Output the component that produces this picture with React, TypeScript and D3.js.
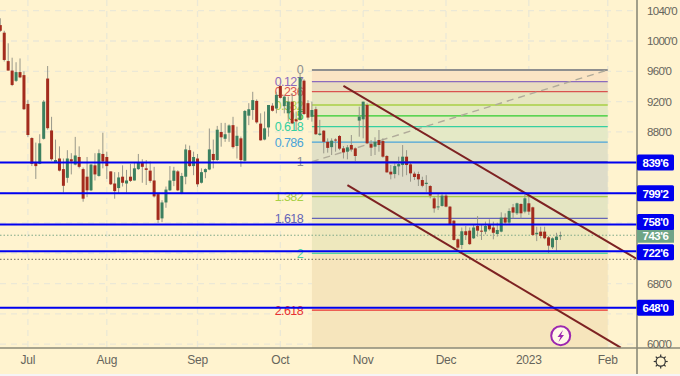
import React from "react";
import * as d3 from "d3";

const opens = [
  1021, 1011, 973.5, 961, 947.5, 959, 955, 917, 872, 840.5,
  838, 871, 950.5, 882, 840, 845, 831, 819.5, 844, 837,
  847, 831, 821, 803, 836, 822, 851, 847, 828, 812,
  806, 821, 812, 821, 816, 831, 839, 832, 829, 816,
  798, 766, 787, 803, 815.5, 828, 799, 821, 856, 835,
  845, 813, 827, 830.5, 851, 843, 880, 871, 879, 889,
  861.5, 871.6, 842, 901.5, 909, 921, 891, 870, 886, 914.7,
  911, 940.7, 914, 904.6, 920, 896.7, 896, 947.7, 918, 900,
  910, 876, 881.7, 867, 860, 870, 874.7, 858.4, 854, 862.8,
  858.4, 895, 896.7, 915.6, 864, 860.6, 869.4, 868, 848.3, 827.6,
  824.5, 834.6, 836.4, 847.4, 837.3, 825, 824.5, 816.6, 811.3, 808.7,
  792.4, 780.5, 782.4, 796, 781.5, 763, 738.4, 730.9, 749, 749.8,
  739.7, 756, 749.8, 748.5, 758, 754, 745.4, 748.5, 767, 760.4,
  780.6, 772.7, 785, 774.9, 785.9, 780.6, 745, 748.5, 748.5, 741,
  727.8, 737.5, 742.8,
];
const closes = [
  1013.5, 975, 961, 942, 959, 952, 910, 876, 838, 835,
  865, 920, 885, 844, 843, 829, 809, 845, 841, 849,
  834, 792, 803, 837, 824, 852, 841, 835, 811, 802,
  820, 813, 816, 815.5, 832, 840, 834, 830, 815.5, 795,
  764, 787, 804, 816, 829, 803, 822, 857, 835, 847,
  811, 827, 831, 857, 843, 883, 873, 877, 888.6, 860,
  875, 843, 907.7, 910, 922, 892.7, 869, 884.8, 915.6, 908,
  929, 925, 926.6, 920, 891.4, 894, 952, 903.7, 899, 909,
  877, 878, 867, 859, 868.5, 869.4, 858, 853, 859.7, 857,
  848.3, 900.2, 920, 865, 859.3, 867, 862.8, 847.4, 826.7, 824,
  835, 837.7, 847.4, 836.4, 825.4, 820.6, 817.5, 809, 813, 796,
  779.2, 781.8, 796, 781.5, 758, 737.5, 727.4, 749, 744, 732,
  754, 749.8, 749.4, 756, 751.6, 747, 750.7, 767, 760.4, 775.8,
  773.6, 785.9, 772.7, 792.5, 774.9, 744, 747, 742.8, 739.7, 730,
  739.7, 742, 743.75,
];
const highs = [
  1030, 1013.5, 997, 978, 972, 977, 960, 922, 873, 866,
  877, 922, 967, 900, 870, 861, 845, 856, 852, 873.5,
  861, 833, 847, 838, 852, 857, 879, 854, 828, 827,
  827, 836, 830, 838, 840, 851, 844, 843, 841, 834,
  799, 790, 808, 835, 834, 829.6, 826, 863.5, 862, 854,
  851, 832, 832, 884.6, 870, 888, 892, 892, 890, 900,
  887, 874, 909, 918, 933, 923, 904.6, 907, 915.6, 918,
  933, 942, 929, 926.6, 931, 907, 958, 949.5, 922, 920,
  913.4, 896, 882.6, 871.6, 871.6, 871.6, 876, 861.5, 862.8, 876,
  859.7, 913.4, 920, 917.8, 869.4, 873, 882.6, 871.6, 849.6, 836.4,
  838.6, 847.4, 862.8, 856, 839.5, 827.6, 827.6, 821, 823, 810,
  794.6, 799, 800, 799, 782.4, 764, 739.7, 754, 756, 754,
  757.3, 769, 758, 761.7, 764.8, 761.7, 760.4, 774, 772.7, 779.3,
  785, 786.8, 785.9, 799, 795.6, 781.5, 755, 755, 755, 742.8,
  741, 747, 748.5,
];
const lows = [
  1012, 973, 961, 940.5, 946, 951, 909, 873.5, 835, 818,
  837.5, 870, 883, 842, 840, 828, 800, 813, 824, 836,
  832, 788, 794, 802, 816, 821, 832, 818, 810, 792,
  799, 808, 800, 814, 816, 830, 813, 810, 813, 793.5,
  760, 761, 780, 802, 808.5, 802, 798, 811, 834, 823,
  807.6, 812, 819, 829.6, 832, 842, 860.6, 867, 867, 858,
  845, 834, 841, 889, 896, 891, 868.5, 869, 873.8, 907,
  904.6, 924, 904.6, 893.6, 890.5, 882.6, 895, 902.4, 896, 893.6,
  876, 875, 851.8, 852.7, 849.6, 854, 856, 845, 843.9, 854,
  841.7, 873.8, 871.6, 864, 848.3, 849.6, 854, 846, 826.3, 817.5,
  818.8, 823, 821, 823, 814.4, 816.6, 808.7, 807, 801, 792.4,
  773.5, 777, 781.5, 780.6, 757.3, 736.6, 725.6, 725.6, 737.5, 731,
  738.8, 741.9, 737.5, 745, 749.8, 738.4, 741.9, 747.6, 757.3, 757.3,
  766, 770.5, 766, 772.7, 770.5, 743.2, 736, 739.7, 738.4, 720,
  725.6, 723.4, 737.5,
];

const gridPrices = [1040, 1000, 960, 920, 880, 840, 800, 760, 720, 680, 640, 600];
const priceLabels = [1040, 1000, 960, 920, 880, 680, 600];
const monthLabels = ["Jul", "Aug", "Sep", "Oct", "Nov", "Dec", "2023", "Feb"];
const monthIndex = [7, 27, 50, 71, 92, 113, 134, 154];

const fibTop = 961.8;
const fibBottom = 840.8;
const fibStartIndex = 79;
const fibEndIndex = 154;
const fibLevels = [0, 0.127, 0.236, 0.382, 0.5, 0.618, 0.786, 1, 1.382, 1.618, 2, 2.618];
const fibLabels = ["0", "0.127", "0.236", "0.382", "0.5", "0.618", "0.786", "1", "1.382", "1.618", "2", "2.618"];
const fibColors = ["#8f8f8f", "#8a6bbd", "#d9534f", "#a8cf45", "#2ecc2e", "#35d0a0", "#4aa3d9", "#8f8f8f", "#a8cf45", "#6464b8", "#4fd3a5", "#e83232"];
const fibFills = ["#fbe4c4", "#e9dcc0", "#e6e6c0", "#e4e9c2", "#e4e9c2", "#e4e9c6", "#e1e0c6", "#dedcc9", "#e4e5c2", "#eee8bd", "#f6e5bc"];

const keyLevels = [839.75, 799.25, 758, 722.75, 648];
const keyTexts = ["839'6", "799'2", "758'0", "722'6", "648'0"];
const keyTextOffset = [0, 0, -2.5, 1, 0];
const lastPrice = 743.75;
const lastText = "743'6";
const dottedLow = 712;

const upperChannel: [number, number][] = [[87, 940.7], [161.4, 712.4]];
const lowerChannel: [number, number][] = [[88, 810], [157.3, 595.4]];

const W = 680;
const PW = 637;
const PH = 348;
const x = d3.scaleLinear().domain([0, 142]).range([0.3, 560.4]);
const y = d3.scaleLinear().domain([1040, 600]).range([10.7, 344.2]);
const line = d3.line<[number, number]>().x((d) => x(d[0])).y((d) => y(d[1]));
const fibY = (l: number) => y(fibTop + (fibBottom - fibTop) * l);
const FONT = "'Liberation Sans', Arial, sans-serif";
const BG = "#fff3cf";
const RED = "#a32b1d";
const GREEN = "#3c8060";

export default function App() {
  const zoneX0 = x(fibStartIndex);
  const zoneX1 = x(fibEndIndex);
  return (
    <svg width={W} height={376} style={{ position: "absolute", left: 0, top: 0, display: "block" }} fontFamily={FONT}>
      <rect width={W} height={376} fill="#f6f4f6" />
      <rect width={W} height={374} fill={BG} />
      <defs>
        <clipPath id="plot"><rect x={0} y={0} width={PW} height={PH} /></clipPath>
      </defs>
      <g clipPath="url(#plot)">
        {gridPrices.map((t) => (
          <line key={t} x1={0} x2={PW} y1={y(t)} y2={y(t)} stroke="#ebe8d6" strokeWidth={1.3} strokeDasharray="6 5" />
        ))}
        {monthIndex.map((i) => (
          <line key={i} x1={x(i)} x2={x(i)} y1={0} y2={PH} stroke="#ebe8d6" strokeWidth={1.3} strokeDasharray="6 5" />
        ))}
        {fibFills.map((f, i) => (
          <rect key={i} x={zoneX0} width={zoneX1 - zoneX0} y={fibY(fibLevels[i])} height={fibY(fibLevels[i + 1]) - fibY(fibLevels[i])} fill={f} />
        ))}
        <rect x={zoneX0} width={zoneX1 - zoneX0} y={fibY(2.618)} height={PH - fibY(2.618)} fill="#f6e5bc" />
        {fibLevels.map((l, i) => (
          <g key={l}>
            <line x1={zoneX0} x2={zoneX1} y1={fibY(l)} y2={fibY(l)} stroke={fibColors[i]} strokeWidth={i === 0 ? 2 : 1.3} />
            <text x={303} y={fibY(l) + 4.5} textAnchor="end" fontSize={12.5} letterSpacing={-0.6} fill={fibColors[i]}>{fibLabels[i]}</text>
          </g>
        ))}
        <path d={line([[fibStartIndex, fibBottom], [fibEndIndex, fibTop]]) ?? ""} fill="none" stroke="#b0ab9a" strokeWidth={1.4} strokeDasharray="7 5" />
        <line x1={0} x2={PW} y1={y(lastPrice)} y2={y(lastPrice)} stroke="#7fa888" strokeWidth={1} strokeDasharray="1.5 2" />
        <line x1={0} x2={PW} y1={y(dottedLow)} y2={y(dottedLow)} stroke="#6d6a58" strokeWidth={1} strokeDasharray="1.5 2" />
        {opens.map((o, i) => {
          const c = closes[i];
          const col = c >= o ? GREEN : RED;
          const top = y(Math.max(o, c));
          const h = Math.max(1, y(Math.min(o, c)) - top);
          return (
            <g key={i}>
              <line x1={x(i)} x2={x(i)} y1={y(highs[i])} y2={y(lows[i])} stroke="#98978a" strokeWidth={1} />
              <rect x={x(i) - 1.5} y={top} width={3} height={h} fill={col} />
            </g>
          );
        })}
        <path d={line(upperChannel) ?? ""} fill="none" stroke="#7d2222" strokeWidth={2} />
        <path d={line(lowerChannel) ?? ""} fill="none" stroke="#7d2222" strokeWidth={2} />
        {keyLevels.map((l) => (
          <line key={l} x1={0} x2={PW} y1={y(l)} y2={y(l)} stroke="#0000f0" strokeWidth={2} />
        ))}
      </g>
      <circle cx={560.7} cy={335.7} r={9.5} fill="#fff8e8" stroke="#9c27b0" strokeWidth={2} />
      <path d="M563,330 L557.5,337 L560.5,337 L558.5,342 L564,335 L561,335 Z" fill="#9c27b0" />

      <line x1={PW} x2={PW} y1={0} y2={374} stroke="#8b8a78" strokeWidth={1.6} />
      <line x1={0} x2={W} y1={PH} y2={PH} stroke="#8b8a78" strokeWidth={1.6} />

      {priceLabels.map((t) => (
        <text key={t} x={647} y={y(t) + 4} fontSize={11.5} letterSpacing={-0.7} fill="#66655c">{t}'0</text>
      ))}
      {monthLabels.map((m, i) => (
        <text key={m} x={x(monthIndex[i])} y={364} textAnchor="middle" fontSize={12} letterSpacing={-0.2} fill="#66655c">{m}</text>
      ))}

      <rect x={637} y={y(lastPrice) - 7.5} width={37} height={15} fill="#6fa586" />
      <text x={655.5} y={y(lastPrice) + 4.5} textAnchor="middle" fontSize={11.5} letterSpacing={-0.5} fill="#fff" fontWeight={600}>{lastText}</text>
      {keyLevels.map((l, i) => (
        <g key={l}>
          <rect x={637} y={y(l) + keyTextOffset[i] - 8} width={37} height={16} rx={1.5} fill="#0000ee" />
          <text x={655.5} y={y(l) + keyTextOffset[i] + 4.5} textAnchor="middle" fontSize={11.5} letterSpacing={-0.5} fill="#fff" fontWeight={600}>{keyTexts[i]}</text>
        </g>
      ))}

      <g transform="translate(660.7,361.5)" stroke="#333" strokeWidth={1.2} fill="none">
        <circle r={4.6} />
        {d3.range(8).map((k) => {
          const a = (k * Math.PI) / 4;
          return <line key={k} x1={4.6 * Math.cos(a)} y1={4.6 * Math.sin(a)} x2={7 * Math.cos(a)} y2={7 * Math.sin(a)} />;
        })}
      </g>
    </svg>
  );
}
